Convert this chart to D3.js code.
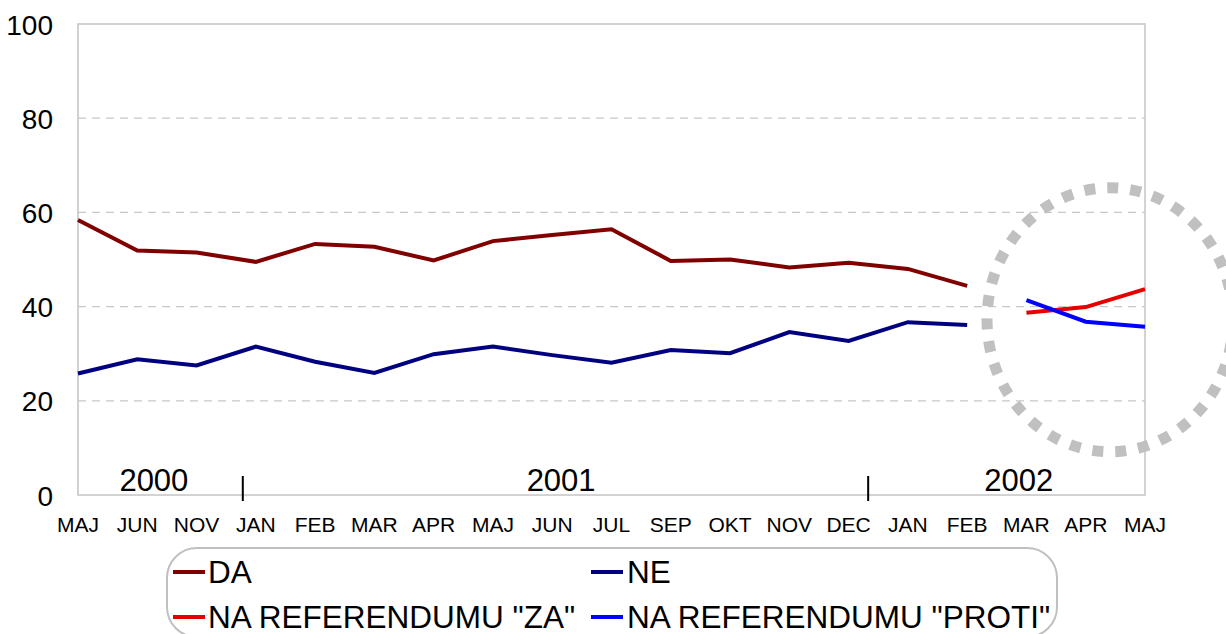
<!DOCTYPE html>
<html>
<head>
<meta charset="utf-8">
<script src="https://cdn.jsdelivr.net/npm/d3@7"></script>
<style>
  html, body { margin: 0; padding: 0; background: #fff; }
  svg { display: block; font-family: "Liberation Sans", Arial, sans-serif; }
</style>
</head>
<body>
<svg id="chart" width="1226" height="634"></svg>
<script>
// ---- data ----
const months = ["MAJ","JUN","NOV","JAN","FEB","MAR","APR","MAJ","JUN","JUL","SEP","OKT","NOV","DEC","JAN","FEB","MAR","APR","MAJ"];
const daValues = [58.4, 51.9, 51.5, 49.5, 53.3, 52.7, 49.8, 53.9, 55.2, 56.4, 49.7, 50.0, 48.3, 49.3, 48.0, 44.4, null, null, null];
const neValues = [25.8, 28.8, 27.5, 31.5, 28.3, 25.9, 29.9, 31.5, 29.7, 28.1, 30.8, 30.1, 34.6, 32.7, 36.7, 36.1, null, null, null];
const zaValues = [null, null, null, null, null, null, null, null, null, null, null, null, null, null, null, null, 38.7, 39.9, 43.7];
const protiValues = [null, null, null, null, null, null, null, null, null, null, null, null, null, null, null, null, 41.4, 36.8, 35.7];
const yTicks = [0, 20, 40, 60, 80, 100];
const years = ["2000", "2001", "2002"];
const seriesNames = ["DA", "NE", "NA REFERENDUMU \"ZA\"", "NA REFERENDUMU \"PROTI\""];
const seriesColors = ["#800000", "#000080", "#e60000", "#0000ff"];

(function () {
// ---- layout ----
const svg = d3.select("#chart");
const pLeft = 78, pRight = 1145, pTop = 24, pBottom = 495;
const x = d3.scaleLinear().domain([0, months.length - 1]).range([pLeft, pRight]);
const y = d3.scaleLinear().domain([0, 100]).range([pBottom, pTop]);

// grid lines
svg.append("g").selectAll("line").data(yTicks.filter(t => t > 0 && t < 100)).join("line")
  .attr("x1", pLeft).attr("x2", pRight)
  .attr("y1", d => y(d)).attr("y2", d => y(d))
  .attr("stroke", "#c8c8c8").attr("stroke-width", 1.2)
  .attr("stroke-dasharray", "8,6");

// plot frame
svg.append("rect").attr("x", pLeft).attr("y", pTop)
  .attr("width", pRight - pLeft).attr("height", pBottom - pTop)
  .attr("fill", "none").attr("stroke", "#c4c4c4").attr("stroke-width", 1.5);

// y axis labels
const yAxis = d3.axisLeft(y).tickValues(yTicks).tickSize(0).tickPadding(0);
const gy = svg.append("g").attr("transform", `translate(${pLeft - 25},0)`).call(yAxis);
gy.select(".domain").remove();
gy.selectAll("text").attr("font-size", 28).attr("fill", "#000")
  .attr("font-family", "Liberation Sans, Arial, sans-serif").attr("dy", "0.36em");

// x axis labels
const gx = svg.append("g");
gx.selectAll("text").data(months).join("text")
  .attr("x", (d, i) => x(i)).attr("y", 532)
  .attr("text-anchor", "middle").attr("font-size", 21).attr("fill", "#000")
  .text(d => d);

// year separators & labels
const yearTickIdx = [2.78, 13.33];
svg.append("g").selectAll("line").data(yearTickIdx).join("line")
  .attr("x1", d => x(d)).attr("x2", d => x(d))
  .attr("y1", 476).attr("y2", 501)
  .attr("stroke", "#000").attr("stroke-width", 2);
const yearLabelIdx = [1.28, 8.15, 15.87];
svg.append("g").selectAll("text").data(years).join("text")
  .attr("x", (d, i) => x(yearLabelIdx[i])).attr("y", 491)
  .attr("text-anchor", "middle").attr("font-size", 31).attr("fill", "#000")
  .text(d => d);

// dotted ellipse highlight
svg.append("ellipse")
  .attr("cx", x(17.41)).attr("cy", y(37.2))
  .attr("rx", 123).attr("ry", 132)
  .attr("fill", "none").attr("stroke", "#c0c0c0")
  .attr("stroke-width", 11).attr("stroke-dasharray", "11,12");

// lines
const allSeries = [daValues, neValues, zaValues, protiValues];
const line = d3.line()
  .defined(d => d != null)
  .x((d, i) => x(i)).y(d => y(d));
svg.append("g").selectAll("path").data(allSeries).join("path")
  .attr("d", d => line(d))
  .attr("fill", "none")
  .attr("stroke", (d, i) => seriesColors[i])
  .attr("stroke-width", 4)
  .attr("stroke-linejoin", "miter");

// legend
svg.append("rect").attr("x", 167).attr("y", 548)
  .attr("width", 890).attr("height", 89).attr("rx", 30).attr("ry", 30)
  .attr("fill", "#fff").attr("stroke", "#c0c0c0").attr("stroke-width", 2);
const legPos = [
  {lx: 173, tx: 208, cy: 572},
  {lx: 591, tx: 627, cy: 572},
  {lx: 173, tx: 208, cy: 617},
  {lx: 591, tx: 627, cy: 617}
];
const leg = svg.append("g").selectAll("g").data(seriesNames).join("g");
leg.append("line")
  .attr("x1", (d, i) => legPos[i].lx).attr("x2", (d, i) => legPos[i].lx + 32)
  .attr("y1", (d, i) => legPos[i].cy).attr("y2", (d, i) => legPos[i].cy)
  .attr("stroke", (d, i) => seriesColors[i]).attr("stroke-width", 4);
leg.append("text")
  .attr("x", (d, i) => legPos[i].tx).attr("y", (d, i) => legPos[i].cy + 11)
  .attr("font-size", 31.5).attr("fill", "#000")
  .text(d => d);
})();
</script>
</body>
</html>
